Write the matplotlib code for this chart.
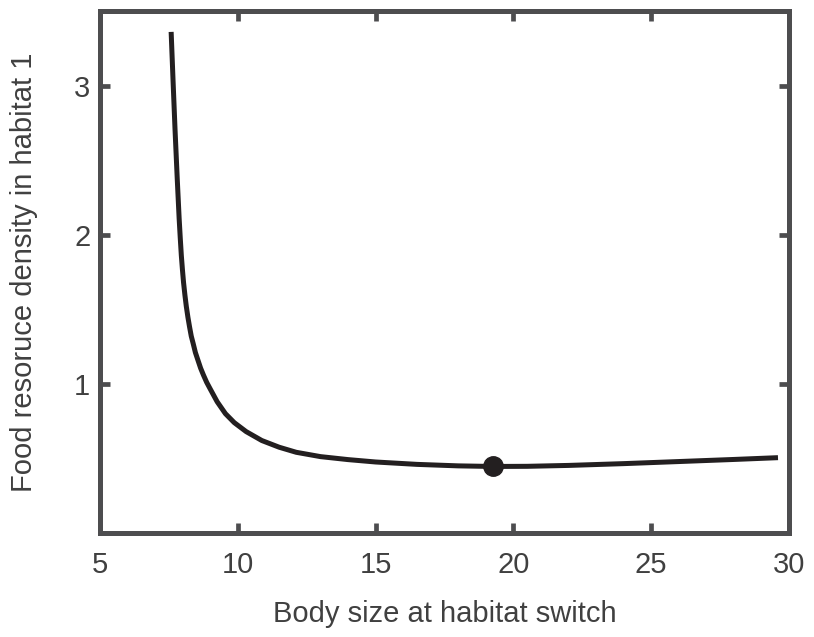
import numpy as np
import matplotlib
matplotlib.use('Agg')
import matplotlib.pyplot as plt

plt.rcParams['font.family'] = ['Liberation Sans', 'DejaVu Sans']

# Curve
body_size = [7.58, 7.65, 7.72, 7.80, 7.87, 7.91, 7.95, 7.99, 8.03, 8.08, 8.13,
             8.19, 8.25, 8.31, 8.38, 8.46, 8.55, 8.65, 8.75, 8.87, 9.00, 9.25,
             9.55, 9.87, 10.3, 10.87, 11.5, 12.12, 13.0, 14.0, 15.0, 16.5, 18.0,
             19.25, 20.5, 22.0, 24.0, 26.0, 28.0, 29.6]
food_density = [3.36, 3.03, 2.71, 2.38, 2.11, 1.98, 1.86, 1.765, 1.68, 1.595, 1.52,
                1.445, 1.38, 1.32, 1.27, 1.21, 1.16, 1.105, 1.06, 1.01, 0.965, 0.88,
                0.80, 0.74, 0.68, 0.62, 0.575, 0.541, 0.512, 0.492,
                0.476, 0.460, 0.450, 0.446, 0.447, 0.453, 0.465, 0.479, 0.493, 0.505]
opt_x = [19.25]
opt_y = [0.446]

xticks = [5, 10, 15, 20, 25, 30]
yticks = [1, 2, 3]

spine_col = '#4d4d4f'
text_col = '#404040'

fig = plt.figure(figsize=(8.14, 6.37), dpi=100)
ax = fig.add_axes([0.1229, 0.1633, 0.8464, 0.8194])

ax.plot(body_size, food_density, color='#231f20', lw=3.6, solid_capstyle='butt',
        solid_joinstyle='round', zorder=3)
ax.plot(opt_x, opt_y, 'o', color='#231f20', markersize=14, zorder=4)

ax.set_xlim(5, 30)
ax.set_ylim(0, 3.5)
ax.set_xticks(xticks)
ax.set_yticks(yticks)

for s in ax.spines.values():
    s.set_color(spine_col)
    s.set_linewidth(3.6)

ax.tick_params(axis='both', direction='in', length=7, width=3.4, color=spine_col,
               top=True, right=True, labelsize=21, labelcolor=text_col)
ax.tick_params(axis='x', pad=13)
ax.tick_params(axis='y', pad=7)

ax.set_xlabel('Body size at habitat switch', fontsize=21, color=text_col, labelpad=15)
ax.set_ylabel('Food resoruce density in habitat 1', fontsize=21, color=text_col, labelpad=26)

fig.savefig('out.png', dpi=100)
